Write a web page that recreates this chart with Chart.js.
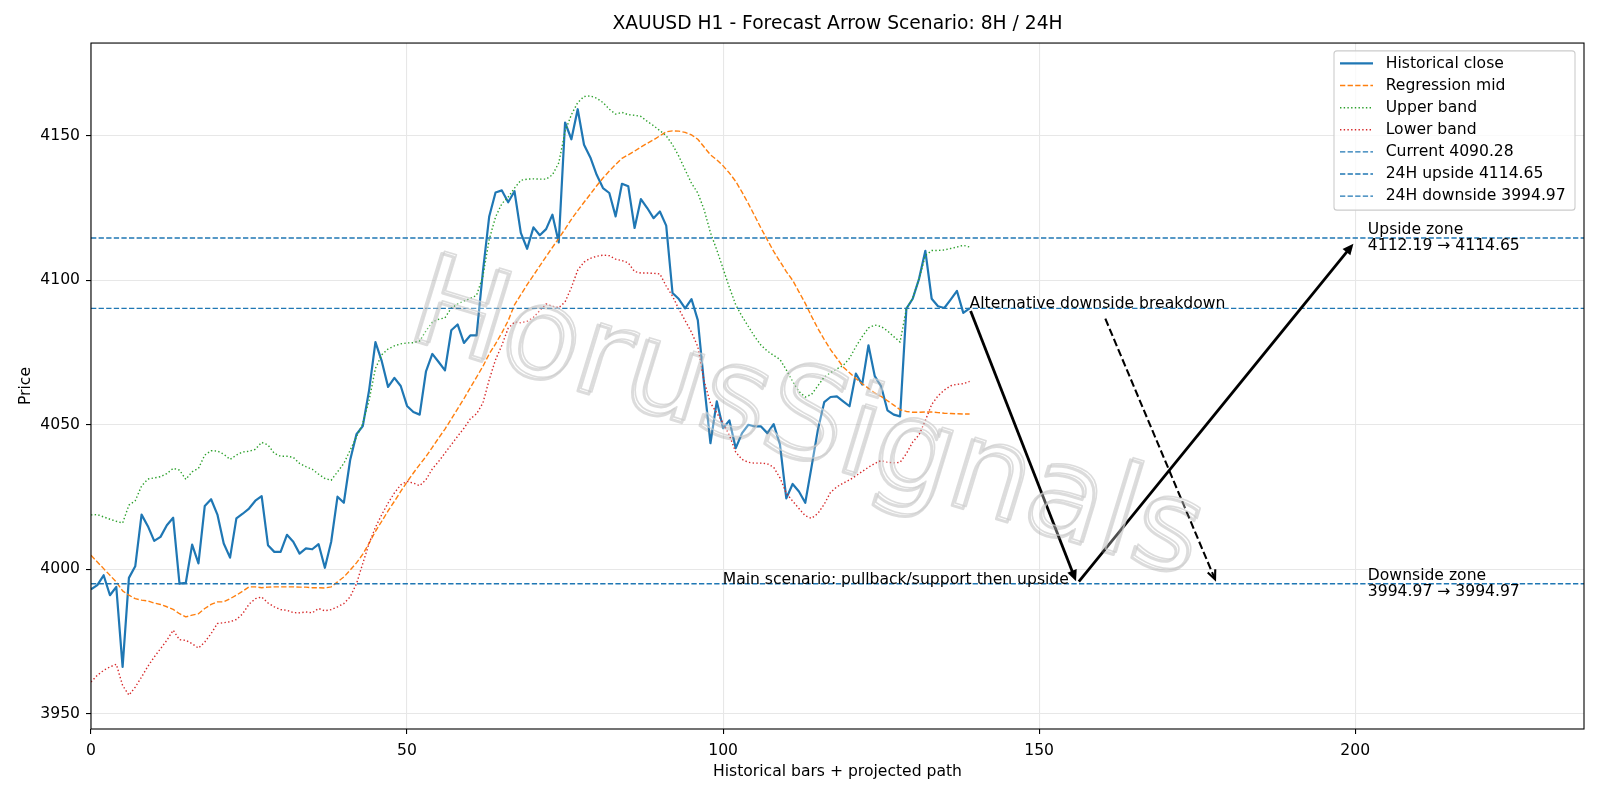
<!DOCTYPE html>
<html>
<head>
<meta charset="utf-8">
<script src="https://cdn.jsdelivr.net/npm/chart.js@4.4.1/dist/chart.umd.min.js"></script>
<style>html,body{margin:0;padding:0;background:#fff}canvas{display:block}</style>
</head>
<body>
<canvas id="c" width="1600" height="800"></canvas>
<script>
// ---------------- data ----------------
const historicalClose = [
3993.0,3994.5,3997.9,3991.0,3993.9,3966.2,3997.0,4001.0,4018.9,4014.9,
4009.8,4011.2,4015.2,4017.8,3995.0,3995.3,4008.5,4002.0,4021.9,4024.2,
4018.9,4008.9,4004.0,4017.6,4019.2,4021.0,4023.7,4025.3,4008.3,4006.0,
4006.0,4011.9,4009.5,4005.4,4007.2,4006.9,4008.7,4000.5,4009.5,4025.1,
4023.0,4037.8,4046.7,4049.5,4062.0,4078.6,4072.0,4063.1,4066.2,4063.4,
4056.5,4054.4,4053.5,4068.5,4074.5,4071.7,4068.8,4082.7,4084.7,4078.3,
4080.9,4080.9,4103.0,4122.1,4130.4,4131.1,4127.0,4130.8,4116.4,4110.9,
4118.3,4115.6,4117.7,4122.7,4113.1,4154.6,4148.8,4159.2,4146.9,4142.5,
4136.5,4131.9,4130.2,4122.1,4133.4,4132.5,4118.1,4128.1,4125.0,4121.5,
4123.8,4118.9,4095.6,4093.5,4090.3,4093.5,4086.2,4064.0,4043.6,4058.1,
4048.8,4051.5,4041.9,4047.1,4050.0,4049.4,4049.4,4047.1,4050.2,4043.1,
4024.5,4029.5,4026.9,4023.0,4035.5,4048.3,4057.8,4059.6,4059.8,4058.1,
4056.4,4067.7,4063.9,4077.5,4066.8,4063.3,4055.0,4053.5,4052.9,4090.2,
4093.6,4100.5,4110.2,4093.6,4091.0,4090.4,4093.3,4096.3,4088.7,4090.28];

const regressionMid = [
4004.8,4002.5,4000.2,3997.9,3995.6,3992.5,3991.0,3989.8,3989.3,3989.0,
3988.3,3987.8,3987.0,3986.1,3984.6,3983.5,3984.1,3984.6,3986.4,3987.8,
3988.7,3988.7,3989.8,3991.0,3992.4,3993.9,3993.9,3993.6,3993.8,3993.9,
3993.9,3993.9,3993.9,3993.8,3993.8,3993.6,3993.6,3993.5,3993.9,3995.6,
3997.3,3999.7,4002.2,4005.2,4009.0,4013.1,4016.6,4020.2,4023.5,4026.9,
4030.2,4033.3,4036.2,4039.0,4042.2,4045.4,4048.5,4052.0,4055.5,4059.0,
4062.8,4066.5,4070.2,4074.5,4078.0,4081.8,4086.0,4091.5,4095.0,4098.5,
4101.7,4105.0,4108.2,4111.4,4114.5,4117.7,4121.1,4124.1,4127.0,4129.8,
4132.7,4135.4,4137.8,4140.1,4142.2,4143.4,4144.7,4146.1,4147.4,4148.6,
4150.0,4151.4,4151.7,4151.6,4151.2,4150.3,4148.8,4146.1,4143.4,4141.7,
4139.6,4137.1,4134.2,4130.5,4126.5,4122.3,4118.0,4114.0,4110.0,4106.5,
4103.0,4100.0,4096.0,4092.0,4087.5,4083.3,4079.5,4076.0,4073.0,4070.0,
4068.0,4066.0,4064.2,4062.6,4061.0,4059.8,4058.3,4056.8,4055.2,4054.6,
4054.3,4054.3,4054.4,4054.4,4054.2,4054.0,4053.9,4053.8,4053.7,4053.7];

const upperBand = [
4018.8,4018.9,4018.1,4017.3,4016.6,4016.0,4022.2,4023.7,4028.8,4031.2,
4031.6,4032.0,4033.1,4034.9,4034.3,4031.1,4033.7,4034.9,4039.5,4041.0,
4040.9,4039.8,4038.0,4039.5,4040.6,4040.8,4041.5,4043.9,4043.0,4040.1,
4039.1,4039.1,4038.7,4036.6,4035.5,4034.6,4032.9,4031.4,4030.8,4033.7,
4036.6,4041.2,4045.8,4050.5,4058.5,4069.5,4074.2,4076.2,4077.3,4078.0,
4078.3,4078.4,4079.0,4082.5,4085.5,4086.5,4087.0,4090.4,4091.8,4092.8,
4093.7,4094.8,4101.4,4114.1,4121.9,4126.5,4128.8,4131.9,4134.6,4135.0,
4135.1,4135.0,4135.0,4136.5,4140.6,4151.5,4157.3,4161.5,4163.6,4163.8,
4163.0,4161.5,4159.2,4157.5,4158.1,4157.3,4157.1,4156.7,4155.0,4153.5,
4151.8,4150.0,4146.9,4142.9,4138.2,4133.6,4130.2,4124.4,4116.5,4110.5,
4104.0,4097.5,4091.5,4087.5,4084.0,4080.5,4077.5,4075.5,4074.0,4072.6,
4069.0,4065.0,4061.5,4059.6,4060.5,4063.5,4066.5,4068.0,4069.3,4070.5,
4073.0,4077.0,4080.5,4083.5,4084.5,4084.0,4082.5,4080.5,4078.6,4090.2,
4093.8,4100.5,4108.5,4110.3,4110.3,4110.5,4111.0,4111.5,4112.1,4111.5];

const lowerBand = [
3961.0,3963.3,3965.0,3966.2,3967.1,3959.8,3956.4,3959.2,3962.7,3966.4,
3969.6,3972.5,3975.4,3978.9,3975.6,3975.4,3974.2,3972.7,3974.8,3977.7,
3981.2,3981.5,3981.8,3982.6,3984.6,3987.9,3989.8,3990.4,3988.3,3987.0,
3986.0,3985.8,3985.0,3984.9,3985.2,3984.9,3986.4,3985.6,3986.0,3987.0,
3988.1,3990.4,3995.0,4002.0,4009.0,4014.5,4018.9,4022.9,4026.4,4029.2,
4030.4,4029.8,4028.9,4031.0,4034.7,4037.3,4040.2,4043.1,4046.0,4048.8,
4052.0,4053.8,4057.5,4065.6,4072.5,4077.5,4083.4,4085.5,4085.3,4085.8,
4087.2,4089.5,4091.8,4091.0,4090.5,4092.5,4097.5,4103.5,4106.3,4107.6,
4108.3,4108.7,4108.5,4107.3,4106.8,4106.0,4103.0,4102.5,4102.5,4102.4,
4102.2,4098.0,4094.5,4090.0,4086.0,4082.0,4077.0,4065.0,4057.5,4054.1,
4050.6,4046.3,4040.5,4038.0,4037.0,4036.7,4036.7,4036.5,4035.3,4031.6,
4026.3,4023.6,4021.0,4018.5,4017.6,4019.3,4022.5,4026.6,4028.5,4029.8,
4030.9,4032.3,4033.8,4035.3,4036.6,4037.6,4037.0,4036.8,4037.0,4040.0,
4044.0,4046.5,4051.5,4057.0,4060.0,4062.0,4063.5,4064.0,4064.2,4065.0];

const currentLevel = 4090.28;
const upsideLevel = 4114.65;
const upsideZoneLow = 4112.19;
const downsideLevel = 3994.97;

const xTicks = [0, 50, 100, 150, 200];
const yTicks = [3950, 4000, 4050, 4100, 4150];
const xRange = [0, 236.2];
const yRange = [3944.7, 4182.1];

// projected path arrows (data coordinates)
const arrowFrom   = [[139, 4090.28], [156, 3994.97], [160.3, 4087.6]];
const arrowTo     = [[156, 3994.97], [200, 4113.42], [178, 3995.6]];
const arrowDashed = [false, false, true];

const chartTitle = 'XAUUSD H1 - Forecast Arrow Scenario: 8H / 24H';
const xTitle = 'Historical bars + projected path';
const yTitle = 'Price';
const altText = 'Alternative downside breakdown';
const mainText = 'Main scenario: pullback/support then upside';
const upZoneText = ['Upside zone', upsideZoneLow.toFixed(2) + ' \u2192 ' + upsideLevel.toFixed(2)];
const downZoneText = ['Downside zone', downsideLevel.toFixed(2) + ' \u2192 ' + downsideLevel.toFixed(2)];
const watermarkText = 'HorusSignals';

// ---------------- chart ----------------
const FONT = '"DejaVu Sans", sans-serif';
const FS = 15.6;      // body font size
const FS_TITLE = 18.7;
Chart.defaults.font.family = FONT;
Chart.defaults.color = '#000';

const DASH = [5.3, 2.3];
const DOT = [1.4, 2.3];
const toPts = arr => arr.map((y, i) => ({x: i, y: y}));
const hline = v => [{x: xRange[0], y: v}, {x: xRange[1], y: v}];

function ds(label, data, color, width, dash, order) {
  return {label, data, borderColor: color, backgroundColor: color, borderWidth: width,
    borderDash: dash, pointRadius: 0, pointHoverRadius: 0, fill: false, tension: 0,
    borderJoinStyle: 'round', borderCapStyle: 'butt', order};
}

const datasets = [
  ds('Historical close', toPts(historicalClose), '#1f77b4', 2.2, [], 10),
  ds('Regression mid', toPts(regressionMid), '#ff7f0e', 1.4, DASH, 9),
  ds('Upper band', toPts(upperBand), '#2ca02c', 1.4, DOT, 8),
  ds('Lower band', toPts(lowerBand), '#d62728', 1.4, DOT, 7),
  ds('Current ' + currentLevel.toFixed(2), hline(currentLevel), '#1f77b4', 1.4, DASH, 6),
  ds('24H upside ' + upsideLevel.toFixed(2), hline(upsideLevel), '#1f77b4', 1.4, DASH, 5),
  ds('24H downside ' + downsideLevel.toFixed(2), hline(downsideLevel), '#1f77b4', 1.4, DASH, 4)
];

function drawArrow(ctx, x0, y0, x1, y1, lw, dashed) {
  const ang = Math.atan2(y1 - y0, x1 - x0);
  const c = Math.cos(ang), s = Math.sin(ang);
  const shrink = 2.8;
  x0 += shrink * c; y0 += shrink * s;
  x1 -= shrink * c; y1 -= shrink * s;
  ctx.save();
  ctx.strokeStyle = '#000';
  ctx.fillStyle = '#000';
  ctx.lineWidth = lw;
  ctx.lineCap = 'butt';
  ctx.setLineDash(dashed ? [7.7, 3.3] : []);
  const L = dashed ? 10 : 11;
  ctx.beginPath();
  ctx.moveTo(x0, y0);
  ctx.lineTo(x1 - (dashed ? 1 : L * 0.6) * c, y1 - (dashed ? 1 : L * 0.6) * s);
  ctx.stroke();
  ctx.setLineDash([]);
  if (dashed) {
    const a = 0.42;
    ctx.beginPath();
    ctx.moveTo(x1 - L * Math.cos(ang - a), y1 - L * Math.sin(ang - a));
    ctx.lineTo(x1, y1);
    ctx.lineTo(x1 - L * Math.cos(ang + a), y1 - L * Math.sin(ang + a));
    ctx.stroke();
  } else {
    const hw = 5;
    ctx.beginPath();
    ctx.moveTo(x1, y1);
    ctx.lineTo(x1 - L * c - hw * s, y1 - L * s + hw * c);
    ctx.lineTo(x1 - L * c + hw * s, y1 - L * s - hw * c);
    ctx.closePath();
    ctx.fill();
  }
  ctx.restore();
}

const overlay = {
  id: 'overlay',
  afterDatasetsDraw(chart) {
    const {ctx, chartArea: ca, scales: {x, y}} = chart;
    ctx.save();
    // frame
    ctx.strokeStyle = '#000';
    ctx.lineWidth = 1.1;
    ctx.strokeRect(ca.left, ca.top, ca.right - ca.left, ca.bottom - ca.top);

    // arrows
    for (let k = 0; k < arrowFrom.length; k++) {
      drawArrow(ctx,
        x.getPixelForValue(arrowFrom[k][0]), y.getPixelForValue(arrowFrom[k][1]),
        x.getPixelForValue(arrowTo[k][0]), y.getPixelForValue(arrowTo[k][1]),
        arrowDashed[k] ? 2.1 : 2.8, arrowDashed[k]);
    }

    // annotation texts
    ctx.fillStyle = '#000';
    ctx.font = FS + 'px ' + FONT;
    ctx.textBaseline = 'alphabetic';
    ctx.textAlign = 'left';
    ctx.fillText(altText, x.getPixelForValue(139), y.getPixelForValue(currentLevel));
    ctx.textAlign = 'right';
    ctx.fillText(mainText, x.getPixelForValue(154.7), y.getPixelForValue(downsideLevel));
    ctx.textAlign = 'left';
    ctx.textBaseline = 'middle';
    const lh = 16.3;
    const zx = x.getPixelForValue(202);
    let zy = y.getPixelForValue(upsideLevel);
    ctx.fillText(upZoneText[0], zx, zy - lh / 2);
    ctx.fillText(upZoneText[1], zx, zy + lh / 2);
    zy = y.getPixelForValue(downsideLevel);
    ctx.fillText(downZoneText[0], zx, zy - lh / 2);
    ctx.fillText(downZoneText[1], zx, zy + lh / 2);

    // legend
    const bw = 241, bh = 159.3;
    const bx = ca.right - 9 - bw, by = ca.top + 7.8;
    ctx.beginPath();
    ctx.roundRect(bx, by, bw, bh, 3);
    ctx.fillStyle = 'rgba(255,255,255,0.8)';
    ctx.fill();
    ctx.strokeStyle = '#cccccc';
    ctx.lineWidth = 1.1;
    ctx.stroke();
    chart.data.datasets.forEach((d, k) => {
      const ry = by + 12.6 + 22.12 * k;
      ctx.save();
      ctx.strokeStyle = d.borderColor;
      ctx.lineWidth = d.borderWidth;
      ctx.setLineDash(d.borderDash || []);
      ctx.beginPath();
      ctx.moveTo(bx + 6, ry);
      ctx.lineTo(bx + 39, ry);
      ctx.stroke();
      ctx.restore();
      ctx.fillStyle = '#000';
      ctx.textAlign = 'left';
      ctx.textBaseline = 'middle';
      ctx.fillText(d.label, bx + 51.7, ry);
    });
    ctx.restore();
  },
  afterDraw(chart) {
    const ctx = chart.ctx;
    ctx.save();
    ctx.translate(798, 455);
    ctx.rotate(17 * Math.PI / 180);
    let size = 120;
    ctx.font = size + 'px ' + FONT;
    const w = ctx.measureText(watermarkText).width;
    size = size * 820 / w;
    ctx.font = size + 'px ' + FONT;
    ctx.textAlign = 'center';
    ctx.textBaseline = 'alphabetic';
    ctx.lineJoin = 'round';
    ctx.fillStyle = 'rgba(255,255,255,0.3)';
    ctx.fillText(watermarkText, 0, 0);
    ctx.strokeStyle = 'rgba(140,140,140,0.3)';
    ctx.lineWidth = 3;
    ctx.strokeText(watermarkText, -2, 3);
    ctx.strokeStyle = 'rgba(205,205,205,0.7)';
    ctx.lineWidth = 1.6;
    ctx.strokeText(watermarkText, 0, 0);
    ctx.restore();
  }
};

const gridOpts = {color: '#e7e7e7', lineWidth: 1.1, tickLength: 5, tickColor: '#000', tickWidth: 1.1};
const plainTick = v => String(v);

new Chart(document.getElementById('c').getContext('2d'), {
  type: 'line',
  data: {datasets},
  plugins: [overlay],
  options: {
    responsive: false,
    animation: false,
    devicePixelRatio: 1,
    layout: {padding: {left: 0, right: 16, top: 0, bottom: 0}},
    plugins: {
      legend: {display: false},
      tooltip: {enabled: false},
      title: {display: true, text: chartTitle, fullSize: false, color: '#000',
        font: {size: FS_TITLE, weight: 'normal'}, padding: {top: 13.3, bottom: 7.3}}
    },
    scales: {
      x: {
        type: 'linear', min: xRange[0], max: xRange[1],
        afterBuildTicks: s => { s.ticks = xTicks.map(v => ({value: v})); },
        afterFit: s => { s.height = 71; },
        grid: gridOpts,
        border: {display: false},
        ticks: {font: {size: FS}, color: '#000', padding: 7.4, maxRotation: 0, autoSkip: false, callback: plainTick},
        title: {display: true, text: xTitle, color: '#000', font: {size: FS}, padding: {top: 0, bottom: 18.8}}
      },
      y: {
        type: 'linear', min: yRange[0], max: yRange[1],
        afterBuildTicks: s => { s.ticks = yTicks.map(v => ({value: v})); },
        afterFit: s => { s.width = 91; },
        grid: gridOpts,
        border: {display: false},
        ticks: {font: {size: FS}, color: '#000', padding: 6, callback: plainTick},
        title: {display: true, text: yTitle, color: '#000', font: {size: FS}, padding: {top: 16.1, bottom: 0}}
      }
    }
  }
});
</script>
</body>
</html>
